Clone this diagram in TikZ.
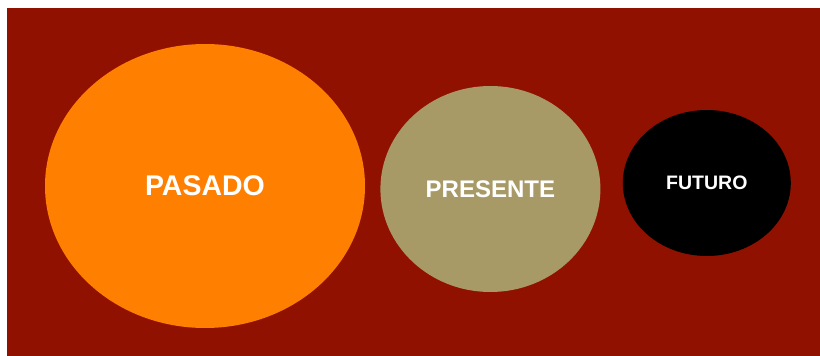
\documentclass[tikz,border=0pt]{standalone}
\usepackage{fontspec}
\setmainfont{Liberation Sans}
\usetikzlibrary{shapes.geometric, positioning}

\definecolor{fondo}{HTML}{911100}
\definecolor{naranja}{HTML}{FF7F00}
\definecolor{caqui}{HTML}{A89A66}

\begin{document}
\begin{tikzpicture}[
    x=1pt, y=-1pt,
    era/.style = {ellipse, inner sep=0pt, text=white, font=\bfseries},
    node distance=15pt and 15pt
  ]

  % canvas and red background
  \useasboundingbox (0,0) rectangle (820,356);
  \fill[fondo] (7,8) rectangle (820,356);

  % past, big orange ellipse
  \node[era, fill=naranja, minimum width=320pt, minimum height=284pt,
        font=\bfseries\fontsize{28.5}{32}\selectfont] (pasado) at (205,186) {PASADO};

  % present to the right
  \node[era, fill=caqui, minimum width=220pt, minimum height=206pt,
        font=\bfseries\fontsize{24}{28}\selectfont,
        right=15pt of pasado, yshift=-3pt] (presente) {PRESENTE};

  % future, small black one
  \node[era, fill=black, minimum width=168pt, minimum height=146pt,
        font=\bfseries\fontsize{19.5}{22}\selectfont,
        right=22pt of presente, yshift=6pt] (futuro) {FUTURO};

\end{tikzpicture}
\end{document}
